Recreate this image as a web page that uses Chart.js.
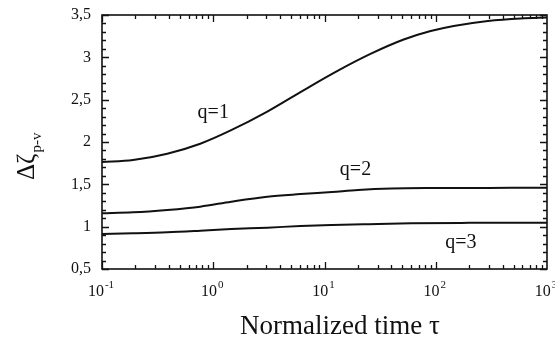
<!DOCTYPE html>
<html>
<head>
<meta charset="utf-8">
<script src="https://cdn.jsdelivr.net/npm/chart.js@4"></script>
<style>
html,body{margin:0;padding:0;background:#fff;}
#wrap{width:555px;height:345px;}
</style>
</head>
<body>
<div id="wrap"><canvas id="c" width="555" height="345"></canvas></div>
<script>
// Data
const tauQ1 = [0.1, 0.19, 0.386, 0.764, 1.45, 3.06, 6.08, 13.1, 25.9, 51.5, 90, 145, 294, 583, 1000];
const valQ1 = [1.763, 1.787, 1.862, 1.98, 2.14, 2.36, 2.59, 2.84, 3.04, 3.21, 3.31, 3.37, 3.43, 3.46, 3.47];

const tauQ2 = [0.1, 0.19, 0.386, 0.764, 1.45, 3.06, 6.08, 11.7, 20, 40, 100, 300, 1000];
const valQ2 = [1.158, 1.169, 1.197, 1.236, 1.295, 1.354, 1.385, 1.41, 1.433, 1.45, 1.456, 1.458, 1.46];

const tauQ3 = [0.1, 0.19, 0.386, 0.764, 1.45, 3.06, 6.08, 11.7, 25, 60, 200, 1000];
const valQ3 = [0.913, 0.921, 0.933, 0.952, 0.972, 0.988, 1.008, 1.02, 1.03, 1.04, 1.045, 1.047];

const curveLabels = ['q=1', 'q=2', 'q=3'];
const curveLabelTau = [1.0, 19, 168];
const curveLabelVal = [2.35, 1.67, 0.81];

const yTickValues = [0.5, 1, 1.5, 2, 2.5, 3, 3.5];
const yTickLabels = ['0,5', '1', '1,5', '2', '2,5', '3', '3,5'];
const xTickValues = [0.1, 1, 10, 100, 1000];
const xTickExponents = ['-1', '0', '1', '2', '3'];

const xTitle = 'Normalized time τ';
const yTitleMain = 'Δζ';
const yTitleSub = 'p-v';

function pts(xs, ys){ return xs.map((x,i)=>({x:x, y:ys[i]})); }

const SERIF = '"Liberation Serif", "DejaVu Serif", serif';

const decor = {
  id: 'decor',
  afterDraw(chart){
    const ctx = chart.ctx;
    const xs = chart.scales.x, ys = chart.scales.y;
    const a = chart.chartArea;
    ctx.save();
    ctx.strokeStyle = '#111';
    ctx.fillStyle = '#111';
    // frame
    ctx.lineWidth = 1.6;
    ctx.strokeRect(a.left, a.top, a.right - a.left, a.bottom - a.top);
    // y ticks
    ctx.lineWidth = 1.3;
    ctx.beginPath();
    for (let k = 5; k <= 35; k++){
      const v = k / 10;
      const py = Math.round(ys.getPixelForValue(v)) + 0.5;
      const len = (k % 5 === 0) ? 7 : 4;
      ctx.moveTo(a.left, py); ctx.lineTo(a.left + len, py);
      ctx.moveTo(a.right, py); ctx.lineTo(a.right - len, py);
    }
    // x ticks
    for (let d = -1; d <= 2; d++){
      for (let m = 1; m <= 9; m++){
        const v = m * Math.pow(10, d);
        const px = Math.round(xs.getPixelForValue(v)) + 0.5;
        const len = (m === 1) ? 7 : 4;
        ctx.moveTo(px, a.bottom); ctx.lineTo(px, a.bottom - len);
        ctx.moveTo(px, a.top); ctx.lineTo(px, a.top + len);
      }
    }
    ctx.stroke();

    // y tick labels
    ctx.font = '16px ' + SERIF;
    ctx.textAlign = 'right';
    ctx.textBaseline = 'middle';
    yTickValues.forEach((v, i) => {
      ctx.fillText(yTickLabels[i], a.left - 11, ys.getPixelForValue(v));
    });

    // x tick labels: 10 with superscript exponent
    ctx.textBaseline = 'alphabetic';
    ctx.textAlign = 'left';
    xTickValues.forEach((v, i) => {
      const px = xs.getPixelForValue(v);
      ctx.font = '16px ' + SERIF;
      const wb = ctx.measureText('10').width;
      ctx.font = '11px ' + SERIF;
      const we = ctx.measureText(xTickExponents[i]).width;
      const start = px - (wb + we + 1) / 2 - 1;
      ctx.font = '16px ' + SERIF;
      ctx.fillText('10', start, 296);
      ctx.font = '11px ' + SERIF;
      ctx.fillText(xTickExponents[i], start + wb + 1, 288);
    });

    // x title
    ctx.font = '27px ' + SERIF;
    ctx.textAlign = 'center';
    ctx.fillText(xTitle, 340, 334);

    // y title rotated with subscript
    ctx.save();
    ctx.translate(34, 180);
    ctx.rotate(-Math.PI / 2);
    ctx.textAlign = 'left';
    ctx.textBaseline = 'alphabetic';
    ctx.font = '25px ' + SERIF;
    ctx.fillText(yTitleMain, 0, 0);
    const wm = ctx.measureText(yTitleMain).width;
    ctx.font = '15px ' + SERIF;
    ctx.fillText(yTitleSub, wm + 1, 7);
    ctx.restore();

    // curve labels
    ctx.font = '20px ' + SERIF;
    ctx.textAlign = 'center';
    ctx.textBaseline = 'middle';
    curveLabels.forEach((t, i) => {
      ctx.fillText(t, xs.getPixelForValue(curveLabelTau[i]), ys.getPixelForValue(curveLabelVal[i]));
    });
    ctx.restore();
  }
};

const lineStyle = {borderColor:'#111', borderWidth:2, pointRadius:0, showLine:true, fill:false, cubicInterpolationMode:'monotone'};

new Chart(document.getElementById('c'), {
  type: 'scatter',
  data: {
    datasets: [
      Object.assign({label:'q=1', data: pts(tauQ1, valQ1)}, lineStyle),
      Object.assign({label:'q=2', data: pts(tauQ2, valQ2)}, lineStyle),
      Object.assign({label:'q=3', data: pts(tauQ3, valQ3)}, lineStyle)
    ]
  },
  options: {
    responsive: false,
    animation: false,
    layout: {padding: {left:102, top:15, right:8, bottom:76}},
    plugins: {legend:{display:false}, tooltip:{enabled:false}},
    scales: {
      x: {type:'logarithmic', min:0.1, max:1000, display:false},
      y: {type:'linear', min:0.5, max:3.5, display:false}
    }
  },
  plugins: [decor]
});
</script>
</body>
</html>
